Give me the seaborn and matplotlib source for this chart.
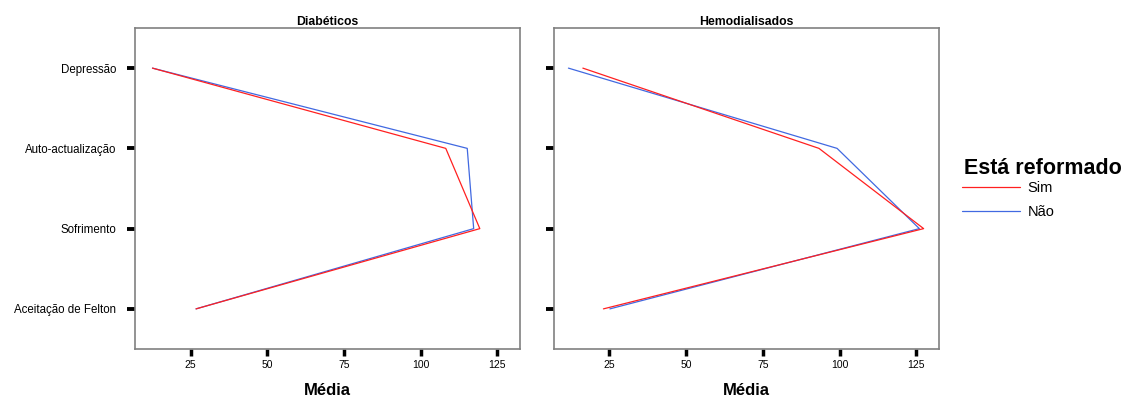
import matplotlib
matplotlib.use("Agg")
import matplotlib.pyplot as plt
import seaborn as sns
import pandas as pd
from matplotlib.lines import Line2D

categories = ["Depressão", "Auto-actualização", "Sofrimento", "Aceitação de Felton"]
panels = ["Diabéticos", "Hemodialisados"]
groups = ["Sim", "Não"]

diab_sim = [12.6, 108.2, 119.3, 26.8]
diab_nao = [12.6, 115.2, 117.3, 26.8]
hemo_sim = [16.4, 93.3, 127.4, 23.1]
hemo_nao = [11.7, 99.2, 126.0, 25.2]

xticks = [25, 50, 75, 100, 125]

sns.set_theme(style="white")
plt.rcParams["font.family"] = ["Liberation Sans", "DejaVu Sans"]
plt.rcParams["text.color"] = "black"
plt.rcParams["xtick.color"] = "black"
plt.rcParams["ytick.color"] = "black"
plt.rcParams["axes.labelcolor"] = "black"

colors = {"Sim": "#FF2020", "Não": "#4169E1"}

rows = []
for panel, s, n in [("Diabéticos", diab_sim, diab_nao), ("Hemodialisados", hemo_sim, hemo_nao)]:
    for g, vals in [("Sim", s), ("Não", n)]:
        for i, (c, v) in enumerate(zip(categories, vals)):
            rows.append({"painel": panel, "Está reformado": g, "categoria": c, "pos": i, "Média": v})
df = pd.DataFrame(rows)

fig = plt.figure(figsize=(11.25, 4.01), dpi=100)
W, H = 1125, 401
boxes = [(135, 520), (553.7, 939)]
top, bottom = 28, 349

for k, panel in enumerate(panels):
    l, r = boxes[k]
    ax = fig.add_axes([l / W, 1 - bottom / H, (r - l) / W, (bottom - top) / H])
    sub = df[df["painel"] == panel]
    sns.lineplot(data=sub, x="Média", y="pos", hue="Está reformado", hue_order=["Não", "Sim"],
                 palette=colors, sort=False, estimator=None, orient="y", linewidth=0.9,
                 legend=False, ax=ax)
    ax.set_xlim(6.9, 132.4)
    ax.set_ylim(3.5, -0.5)
    ax.set_yticks(range(len(categories)))
    if k == 0:
        ax.set_yticklabels(categories, fontsize=8.3)
    else:
        ax.set_yticklabels([])
    ax.set_xticks(xticks)
    ax.set_xticklabels([str(t) for t in xticks], fontsize=7.5)
    ax.tick_params(axis="y", length=5.5, width=2.8, color="black", direction="out", pad=8, left=True)
    ax.tick_params(axis="x", length=5, width=2.5, color="black", direction="out", pad=3, bottom=True)
    for sp in ax.spines.values():
        sp.set_color("#808080")
        sp.set_linewidth(1.2)
    ax.set_ylabel("")
    ax.set_xlabel("Média", fontsize=12, fontweight="bold", labelpad=9)
    ax.set_title(panel, fontsize=8.8, fontweight="bold", pad=2)

fig.text(964 / W, 1 - 168 / H, "Está reformado", fontsize=15.5, fontweight="bold",
         ha="left", va="center")
handles = [Line2D([0], [0], color=colors[g], lw=0.9) for g in groups]
leg = fig.legend(handles, groups, loc="upper left",
                 bbox_to_anchor=(962 / W, 1 - 181 / H), frameon=False, fontsize=10.5,
                 handlelength=4.0, handletextpad=0.5,
                 labelspacing=0.7, borderaxespad=0, borderpad=0)

fig.savefig("out.png", dpi=100)
